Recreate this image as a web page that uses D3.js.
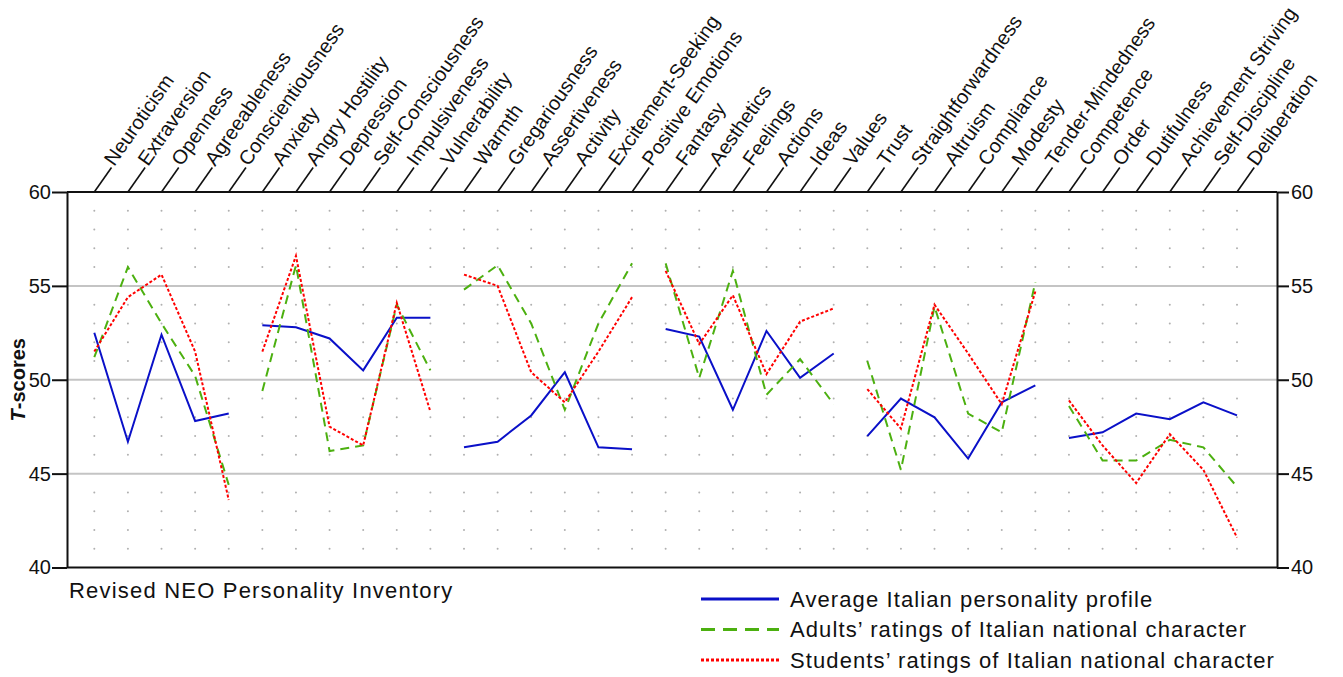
<!DOCTYPE html>
<html>
<head>
<meta charset="utf-8">
<script src="https://cdn.jsdelivr.net/npm/d3@7"></script>
<style>
  body { margin: 0; background: #fff; }
  svg { display: block; font-family: "Liberation Sans", Arial, sans-serif; }
  .axis text { font-size: 20px; fill: #111; }
  .axis path, .axis line { stroke: #111; stroke-width: 2; }
</style>
</head>
<body>
<div id="chart"></div>
<script>
// scale names, domains first then the 30 facets
var categories = ["Neuroticism", "Extraversion", "Openness", "Agreeableness", "Conscientiousness",
  "Anxiety", "Angry Hostility", "Depression", "Self-Consciousness", "Impulsiveness", "Vulnerability",
  "Warmth", "Gregariousness", "Assertiveness", "Activity", "Excitement-Seeking", "Positive Emotions",
  "Fantasy", "Aesthetics", "Feelings", "Actions", "Ideas", "Values",
  "Trust", "Straightforwardness", "Altruism", "Compliance", "Modesty", "Tender-Mindedness",
  "Competence", "Order", "Dutifulness", "Achievement Striving", "Self-Discipline", "Deliberation"];

// each line is broken between these blocks
var groupSizes = [5, 6, 6, 6, 6, 6];

var averageProfile = [52.5, 46.7, 52.4, 47.8, 48.2,
  52.9, 52.8, 52.2, 50.5, 53.3, 53.3,
  46.4, 46.7, 48.1, 50.4, 46.4, 46.3,
  52.7, 52.3, 48.4, 52.6, 50.1, 51.4,
  47.0, 49.0, 48.0, 45.8, 48.8, 49.7,
  46.9, 47.2, 48.2, 47.9, 48.8, 48.1];

var adultRatings = [51.2, 56.0, 53.0, 50.2, 44.4,
  49.4, 56.1, 46.2, 46.5, 54.0, 50.5,
  54.8, 56.1, 53.0, 48.4, 53.0, 56.2,
  56.2, 50.1, 55.8, 49.2, 51.1, 48.7,
  51.0, 45.2, 53.9, 48.2, 47.2, 55.2,
  48.6, 45.7, 45.7, 46.8, 46.4, 44.3];

var studentRatings = [51.5, 54.4, 55.6, 51.5, 43.6,
  51.5, 56.6, 47.5, 46.5, 54.1, 48.3,
  55.6, 55.0, 50.4, 48.8, 51.5, 54.4,
  55.8, 51.9, 54.5, 50.3, 53.1, 53.8,
  49.5, 47.4, 54.0, 51.4, 48.7, 54.7,
  48.9, 46.5, 44.5, 47.1, 45.2, 41.6];

var seriesNames = ["Average Italian personality profile",
  "Adults\u2019 ratings of Italian national character",
  "Students\u2019 ratings of Italian national character"];

var yTicks = [40, 45, 50, 55, 60];
var gridValues = [45, 50, 55];

var svgWidth = 1343;
var svgHeight = 677;

var plot = { left: 67, right: 1277, top: 192, bottom: 567.5 };

var svg = d3.select("#chart")
  .append("svg")
  .attr("width", svgWidth)
  .attr("height", svgHeight);

var x = d3.scalePoint()
  .domain(categories)
  .range([94.3, 1237]);

var y = d3.scaleLinear()
  .domain([40, 60])
  .range([plot.bottom, plot.top]);

var series = [
  { name: seriesNames[0], values: averageProfile, color: "#0a10c8", dash: null },
  { name: seriesNames[1], values: adultRatings, color: "#4cb010", dash: "9,6" },
  { name: seriesNames[2], values: studentRatings, color: "#ff0000", dash: "3,2" }
];

// dotted background grid (one dot per category per whole T-score)
var dotRows = d3.range(41, 60).filter(v => v % 5 !== 0);
var dots = [];
categories.forEach(function(c) {
  dotRows.forEach(function(v) { dots.push({ c: c, v: v }); });
});
svg.append("g")
  .selectAll("circle")
  .data(dots)
  .enter()
  .append("circle")
  .attr("cx", d => x(d.c))
  .attr("cy", d => y(d.v))
  .attr("r", 1)
  .attr("fill", "#b0b0b0");

// grey gridlines
svg.append("g")
  .selectAll("line")
  .data(gridValues)
  .enter()
  .append("line")
  .attr("x1", plot.left)
  .attr("x2", plot.right)
  .attr("y1", d => y(d))
  .attr("y2", d => y(d))
  .attr("stroke", "#c4c4c4")
  .attr("stroke-width", 2);

// top and bottom frame lines
svg.append("g")
  .selectAll("line")
  .data([60, 40])
  .enter()
  .append("line")
  .attr("x1", plot.left)
  .attr("x2", plot.right)
  .attr("y1", d => y(d))
  .attr("y2", d => y(d))
  .attr("stroke", "#111")
  .attr("stroke-width", 2);

// y axes on both sides
var leftAxis = d3.axisLeft(y).tickValues(yTicks).tickSize(15).tickSizeOuter(0).tickPadding(1);
var rightAxis = d3.axisRight(y).tickValues(yTicks).tickSize(12).tickSizeOuter(0).tickPadding(2);

svg.append("g")
  .attr("class", "axis")
  .attr("transform", `translate(${plot.left}, 0)`)
  .call(leftAxis);

svg.append("g")
  .attr("class", "axis")
  .attr("transform", `translate(${plot.right}, 0)`)
  .call(rightAxis);

// slanted category labels on top
var labelAngle = -55;
var rad = labelAngle * Math.PI / 180;
var stub = 30;
var catLabels = svg.append("g")
  .selectAll("g")
  .data(categories)
  .enter()
  .append("g")
  .attr("transform", d => `translate(${x(d)}, ${plot.top})`);

catLabels.append("line")
  .attr("x1", 0)
  .attr("y1", 0)
  .attr("x2", stub * Math.cos(rad))
  .attr("y2", stub * Math.sin(rad))
  .attr("stroke", "#111")
  .attr("stroke-width", 1.6);

catLabels.append("text")
  .attr("transform", `translate(${(stub + 2) * Math.cos(rad)}, ${(stub + 2) * Math.sin(rad)}) rotate(${labelAngle})`)
  .attr("dy", "0.1em")
  .style("font-size", "20px")
  .attr("fill", "#111")
  .text(d => d);

// lines, broken between the personality blocks
var line = d3.line()
  .x(d => x(d.c))
  .y(d => y(d.v));

var starts = [];
groupSizes.reduce(function(acc, n) { starts.push(acc); return acc + n; }, 0);

series.forEach(function(s) {
  var g = svg.append("g");
  starts.forEach(function(st, gi) {
    var pts = d3.range(st, st + groupSizes[gi]).map(i => ({ c: categories[i], v: s.values[i] }));
    g.append("path")
      .datum(pts)
      .attr("d", line)
      .attr("fill", "none")
      .attr("stroke", s.color)
      .attr("stroke-width", 2)
      .attr("stroke-dasharray", s.dash);
  });
});

// y axis title
var yTitle = svg.append("text")
  .attr("transform", `translate(25, ${y(50)}) rotate(-90)`)
  .attr("text-anchor", "middle")
  .style("font-size", "20px")
  .style("font-weight", "bold")
  .attr("fill", "#111");
yTitle.append("tspan").style("font-style", "italic").text("T");
yTitle.append("tspan").text("-scores");

// bottom caption
svg.append("text")
  .attr("x", 69)
  .attr("y", 598)
  .style("font-size", "22px")
  .style("letter-spacing", "1.2px")
  .attr("fill", "#111")
  .text("Revised NEO Personality Inventory");

// legend
var legend = svg.append("g")
  .selectAll("g")
  .data(series)
  .enter()
  .append("g")
  .attr("transform", (d, i) => `translate(701, ${599 + i * 30.5})`);

legend.append("line")
  .attr("x1", 0)
  .attr("x2", 78)
  .attr("stroke", d => d.color)
  .attr("stroke-width", 3)
  .attr("stroke-dasharray", (d, i) => i === 1 ? "14,8" : (i === 2 ? "3,2" : null));

legend.append("text")
  .attr("x", 89)
  .attr("dy", "0.35em")
  .style("font-size", "22px")
  .style("letter-spacing", "1.1px")
  .attr("fill", "#111")
  .text(d => d.name);
</script>
</body>
</html>
